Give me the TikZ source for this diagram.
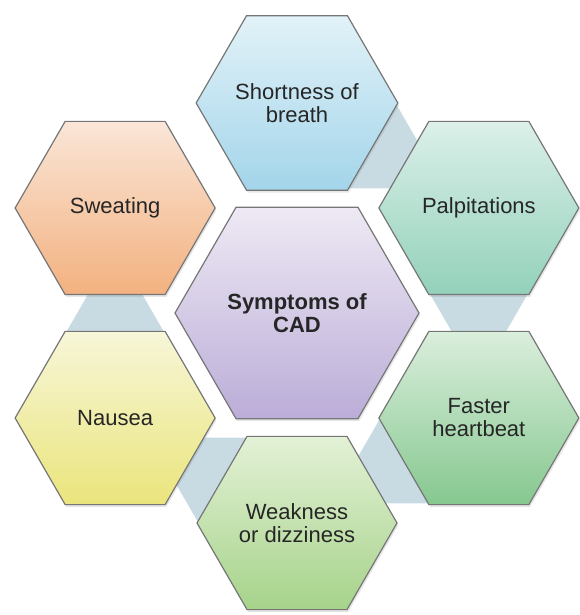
\documentclass[tikz,border=0pt]{standalone}
\usepackage{fontspec}
\setmainfont{Liberation Sans}
\usetikzlibrary{shapes.geometric,calc,backgrounds,shadows}
\definecolor{linkfill}{HTML}{C8DBE3}
\definecolor{hexrule}{HTML}{767676}
\definecolor{labeltext}{HTML}{262626}
\definecolor{breathtop}{HTML}{E2F2F8}
\definecolor{breathbot}{HTML}{A3D5EA}
\definecolor{palptop}{HTML}{DCF0E9}
\definecolor{palpbot}{HTML}{92D1BA}
\definecolor{fastertop}{HTML}{DAEEDC}
\definecolor{fasterbot}{HTML}{86C890}
\definecolor{weaktop}{HTML}{E3F1D6}
\definecolor{weakbot}{HTML}{A6D38A}
\definecolor{nauseatop}{HTML}{F7F6D8}
\definecolor{nauseabot}{HTML}{EAE57C}
\definecolor{sweattop}{HTML}{FAE6D8}
\definecolor{sweatbot}{HTML}{F3B17F}
\definecolor{cadtop}{HTML}{EEE9F4}
\definecolor{cadbot}{HTML}{BBADD8}

\begin{document}
\begin{tikzpicture}[
  x=0.5pt, y=0.5pt,
  font=\fontsize{11}{11.5}\selectfont,
  hexbox/.style={regular polygon, regular polygon sides=6, minimum size=100pt,
                 inner sep=0pt, align=center, draw=hexrule, line width=0.6pt,
                 text=labeltext,
                 drop shadow={opacity=0.2, shadow xshift=0.6pt, shadow yshift=-1.2pt}},
  hubbox/.style={hexbox, minimum size=122pt, font=\fontsize{11}{11.5}\selectfont\bfseries},
  linkhex/.style={regular polygon, regular polygon sides=6, minimum size=50pt,
                  inner sep=0pt, fill=linkfill},
]
\useasboundingbox (0,0) rectangle (579,615);

\node[hubbox, top color=cadtop, bottom color=cadbot] (cad) at (297,302) {Symptoms of\\CAD};

\node[hexbox, top color=breathtop, bottom color=breathbot] (breath) at ($(cad)+(90:210)$)  {Shortness of\\breath};
\node[hexbox, top color=palptop, bottom color=palpbot]     (palp)   at ($(cad)+(30:210)$)  {Palpitations};
\node[hexbox, top color=fastertop, bottom color=fasterbot] (faster) at ($(cad)+(-30:210)$) {Faster\\heartbeat};
\node[hexbox, top color=weaktop, bottom color=weakbot]     (weak)   at ($(cad)+(-90:210)$) {Weakness\\or dizziness};
\node[hexbox, top color=nauseatop, bottom color=nauseabot] (nausea) at ($(cad)+(210:210)$) {Nausea};
\node[hexbox, top color=sweattop, bottom color=sweatbot]   (sweat)  at ($(cad)+(150:210)$) {Sweating};

% links between neighbours, behind the hexagons
\begin{scope}[on background layer]
\foreach \a/\b [count=\i] in {breath/palp, palp/faster, faster/weak,
                              weak/nausea, nausea/sweat}
  \node[linkhex] (link\i) at ($(\a)!0.4!(\b)$) {};
\end{scope}

\end{tikzpicture}
\end{document}
